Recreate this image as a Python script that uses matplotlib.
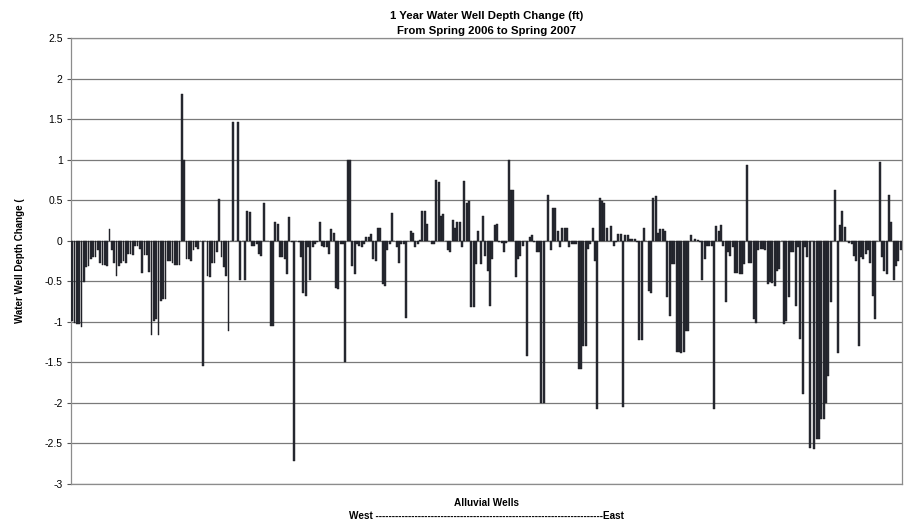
import matplotlib
matplotlib.use('Agg')
import matplotlib.pyplot as plt
import numpy as np

plt.rcParams['font.family'] = ['Liberation Sans', 'DejaVu Sans']

# depth change per well, west to east
seg1 = [-0.99, -1.02, -1.03, -1.03, -1.06, -0.51, -0.33, -0.31, -0.23, -0.2, -0.2, -0.12, -0.28, -0.3, -0.3,
        -0.31, 0.14, -0.12, -0.27, -0.43, -0.31, -0.28, -0.25, -0.27, -0.16, -0.16, -0.17, -0.07, -0.07, -0.1,
        -0.4, -0.17, -0.17, -0.38]
seg2 = [-1.16, -0.99, -0.97, -1.16, -0.74, -0.72, -0.72, -0.25, -0.25, -0.27, -0.3, -0.3, -0.3, 1.81, 1.0,
        -0.23, -0.23, -0.25, -0.12, -0.08, -0.1, 0.0, -1.54, 0.0, -0.43, -0.45, -0.27, -0.27, -0.14, 0.51,
        -0.2, -0.33, -0.43, -1.11, 0.0]
seg3 = [1.46, 0.0, 1.46, -0.49, 0.0, -0.49, 0.37, 0.35, -0.06, -0.06, -0.04, -0.16, -0.19, 0.47, 0.0, 0.0,
        -1.05, -1.05, 0.23, 0.21, -0.2, -0.2, -0.23, -0.41, 0.29, -0.02, -2.72, 0.0, -0.02, -0.2, -0.64,
        -0.68, -0.08, -0.49, -0.08]
seg4 = [-0.04, -0.02, 0.23, -0.06, -0.08, -0.08, -0.16, 0.14, 0.1, -0.58, -0.6, -0.04, -0.04, -1.5, 1.0,
        0.99, -0.31, -0.41, -0.04, -0.06, -0.08, -0.04, 0.04, 0.04, 0.08, -0.23, -0.25, 0.16, 0.16, -0.53,
        -0.56, -0.12, -0.04, 0.34, 0.0]
seg5 = [-0.08, -0.27, -0.04, -0.04, -0.95, 0.0, 0.12, 0.1, -0.08, -0.04, 0.01, 0.37, 0.37, 0.21, 0.0,
        -0.04, -0.04, 0.75, 0.72, 0.3, 0.33, 0.0, -0.12, -0.14, 0.25, 0.16, 0.23, 0.23, -0.08, 0.74, 0.47,
        0.49, -0.82, -0.82, -0.29, 0.12, -0.29]
seg6 = [0.31, -0.19, -0.37, -0.8, -0.23, 0.2, 0.21, -0.02, -0.03, -0.14, -0.03, 1.0, 0.62, 0.62, -0.45,
        -0.23, -0.19, -0.06, 0.0, -1.42, 0.05, 0.07, -0.02, -0.14, -0.14, -2.0, -2.0, 0.0, 0.56, -0.12,
        0.4, 0.4, 0.12, -0.08, 0.16, 0.16]
seg7 = [0.16, -0.08, -0.04, -0.04, -0.04, -1.58, -1.58, -1.3, -1.3, -0.1, -0.04, 0.16, -0.25, -2.08, 0.53,
        0.49, 0.47, 0.16, 0.0, 0.18, -0.06, -0.02, 0.08, 0.08, -2.05, 0.07, 0.07, 0.02, 0.02, 0.02, -0.01,
        -1.22, -1.22, 0.16, 0.0, -0.62, -0.64]
seg8 = [0.53, 0.55, 0.1, 0.14, 0.14, 0.12, -0.7, -0.93, -0.29, -0.29, -1.37, -1.37, -1.38, -1.37, -1.11,
        -1.11, 0.07, 0.0, 0.02, 0.01, -0.01, -0.49, -0.23, -0.06, -0.06, -0.06, -2.08, 0.18, 0.12, 0.2,
        -0.06, -0.76, -0.14, -0.19, -0.08, -0.4, -0.4, -0.41]
seg9 = [-0.41, -0.29, 0.93, -0.27, -0.27, -0.97, -1.01, -0.12, -0.1, -0.1, -0.12, -0.53, -0.51, -0.52,
        -0.56, -0.37, -0.35, 0.0, -1.03, -0.99, -0.7, -0.14, -0.14, -0.8, -0.08, -1.21, -1.89, -0.08, -0.2,
        -2.55, 0.0, -2.57, -2.45, -2.45]
seg10 = [-2.2, -2.2, -2.0, -1.67, -0.76, 0.0, 0.63, -1.38, 0.2, 0.37, 0.17, 0.0, -0.03, -0.04, -0.19, -0.25,
         -1.3, -0.2, -0.22, -0.16, -0.12, -0.27, -0.68, -0.97, 0.0, 0.97, -0.2, -0.37, -0.41, 0.57, 0.23,
         -0.49, -0.31, -0.25, -0.12]

change = seg1 + seg2 + seg3 + seg4 + seg5 + seg6 + seg7 + seg8 + seg9 + seg10
yticks = [-3, -2.5, -2, -1.5, -1, -0.5, 0, 0.5, 1, 1.5, 2, 2.5]
ytick_labels = ['-3', '-2.5', '-2', '-1.5', '-1', '-0.5', '0', '0.5', '1', '1.5', '2', '2.5']

fig = plt.figure(figsize=(9.05, 5.22), dpi=100)
ax = fig.add_axes([0.0785, 0.0728, 0.918, 0.8544])

x = np.arange(len(change))
ax.bar(x, change, width=0.8, color='#2a2c35', edgecolor='#15161a', linewidth=0.3, zorder=3)

ax.set_xlim(-0.5, len(change) - 0.5)
ax.set_ylim(-3, 2.5)
ax.set_yticks(yticks)
ax.set_yticklabels(ytick_labels, fontsize=7.5)
ax.set_xticks([])
ax.grid(axis='y', color='#7a7a7a', linewidth=0.9, zorder=0)
for s in ax.spines.values():
    s.set_color('#8c8c8c')
    s.set_linewidth(0.9)
ax.tick_params(axis='y', length=3, color='#555555', pad=3)

ax.set_title('1 Year Water Well Depth Change (ft)\nFrom Spring 2006 to Spring 2007',
             fontsize=8.2, fontweight='bold', linespacing=1.55, pad=3)
ax.set_ylabel('Water Well Depth Change (', fontsize=7, fontweight='bold', labelpad=14)
ax.set_xlabel('Alluvial Wells\nWest ' + '-' * 70 + 'East',
              fontsize=7.2, fontweight='bold', labelpad=10, linespacing=1.4)

fig.savefig('out.png', dpi=100)
